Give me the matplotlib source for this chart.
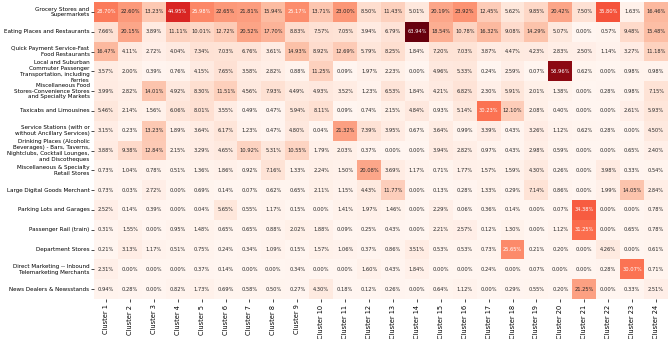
import numpy as np
import matplotlib
matplotlib.use("Agg")
import matplotlib.pyplot as plt
import seaborn as sns

clusters = [f"Cluster {i}" for i in range(1, 25)]
categories = [
    "Grocery Stores and\nSupermarkets",
    "Eating Places and Restaurants",
    "Quick Payment Service-Fast\nFood Restaurants",
    "Local and Suburban\nCommuter Passenger\nTransportation, including\nFerries",
    "Miscellaneous Food\nStores-Convenience Stores\nand Specialty Markets",
    "Taxicabs and Limousines",
    "Service Stations (with or\nwithout Ancillary Services)",
    "Drinking Places (Alcoholic\nBeverages) - Bars, Taverns,\nNightclubs, Cocktail Lounges,\nand Discotheques",
    "Miscellaneous & Specialty\nRetail Stores",
    "Large Digital Goods Merchant",
    "Parking Lots and Garages",
    "Passenger Rail (train)",
    "Department Stores",
    "Direct Marketing -- Inbound\nTelemarketing Merchants",
    "News Dealers & Newsstands",
]

grocery = [28.70, 22.60, 13.23, 44.95, 25.98, 22.65, 21.81, 15.94, 25.17, 13.71, 23.00, 8.50, 11.43, 5.01, 20.19, 23.92, 12.45, 5.62, 9.85, 20.42, 7.50, 35.80, 1.63, 16.46]
eating = [7.66, 20.15, 3.89, 11.11, 10.01, 12.72, 20.52, 17.70, 8.83, 7.57, 7.05, 3.94, 6.79, 63.94, 18.54, 10.78, 16.32, 9.08, 14.29, 5.07, 0.00, 0.57, 9.48, 15.48]
quick_pay = [16.47, 4.11, 2.72, 4.04, 7.34, 7.03, 6.76, 3.61, 14.93, 8.92, 12.69, 5.79, 8.25, 1.84, 7.20, 7.03, 3.87, 4.47, 4.23, 2.83, 2.50, 1.14, 3.27, 11.18]
commuter = [3.57, 2.00, 0.39, 0.76, 4.15, 7.65, 3.58, 2.82, 0.88, 11.25, 0.09, 1.97, 2.23, 0.00, 4.96, 5.33, 0.24, 2.59, 0.07, 58.96, 0.62, 0.00, 0.98, 0.98]
misc_food = [3.99, 2.82, 14.01, 4.92, 8.30, 11.51, 4.56, 7.93, 4.49, 4.93, 3.52, 1.23, 6.53, 1.84, 4.21, 6.82, 2.30, 5.91, 2.01, 1.38, 0.00, 0.28, 0.98, 7.15]
taxi = [5.46, 2.14, 1.56, 6.06, 8.01, 3.55, 0.49, 0.47, 5.94, 8.11, 0.09, 0.74, 2.15, 4.84, 0.93, 5.14, 30.23, 12.10, 2.08, 0.40, 0.00, 0.00, 2.61, 5.93]
service = [3.15, 0.23, 13.23, 1.89, 3.64, 6.17, 1.23, 0.47, 4.80, 0.04, 21.32, 7.39, 3.95, 0.67, 3.64, 0.99, 3.39, 0.43, 3.26, 1.12, 0.62, 0.28, 0.00, 4.50]
drinking = [3.88, 9.38, 12.84, 2.15, 3.29, 4.65, 10.92, 5.31, 10.55, 1.79, 2.03, 0.37, 0.00, 0.00, 3.94, 2.82, 0.97, 0.43, 2.98, 0.59, 0.00, 0.00, 0.65, 2.40]
misc_retail = [0.73, 1.04, 0.78, 0.51, 1.36, 1.86, 0.92, 7.16, 1.33, 2.24, 1.50, 20.08, 3.69, 1.17, 0.71, 1.77, 1.57, 1.59, 4.30, 0.26, 0.00, 3.98, 0.33, 0.54]
digital = [0.73, 0.03, 2.72, 0.00, 0.69, 0.14, 0.07, 0.62, 0.65, 2.11, 1.15, 4.43, 11.77, 0.00, 0.13, 0.28, 1.33, 0.29, 7.14, 0.86, 0.00, 1.99, 14.05, 2.84]
parking = [2.52, 0.14, 0.39, 0.00, 0.04, 5.65, 0.55, 1.17, 0.15, 0.00, 1.41, 1.97, 1.46, 0.00, 2.29, 0.06, 0.36, 0.14, 0.00, 0.07, 34.38, 0.00, 0.00, 0.78]
rail = [0.31, 1.55, 0.00, 0.95, 1.48, 0.65, 0.65, 0.88, 2.02, 1.88, 0.09, 0.25, 0.43, 0.00, 2.21, 2.57, 0.12, 1.30, 0.00, 1.12, 31.25, 0.00, 0.65, 0.78]
department = [0.21, 3.13, 1.17, 0.51, 0.75, 0.24, 0.34, 1.09, 0.15, 1.57, 1.06, 0.37, 0.86, 3.51, 0.53, 0.53, 0.73, 25.65, 0.21, 0.20, 0.00, 4.26, 0.00, 0.61]
direct_mkt = [2.31, 0.00, 0.00, 0.00, 0.37, 0.14, 0.00, 0.00, 0.34, 0.00, 0.00, 1.60, 0.43, 1.84, 0.00, 0.00, 0.24, 0.00, 0.07, 0.00, 0.00, 0.28, 30.07, 0.71]
news = [0.94, 0.28, 0.00, 0.82, 1.73, 0.69, 0.58, 0.50, 0.27, 4.30, 0.18, 0.12, 0.26, 0.00, 0.64, 1.12, 0.00, 0.29, 0.55, 0.20, 21.25, 0.00, 0.33, 2.51]

data = np.array([grocery, eating, quick_pay, commuter, misc_food, taxi, service,
                 drinking, misc_retail, digital, parking, rail, department,
                 direct_mkt, news])
annot = np.vectorize(lambda v: f"{v:.2f}%")(data)

fig = plt.figure(figsize=(6.68, 3.39), dpi=100)
ax = fig.add_axes([0.1407, 0.118, 0.8593, 0.876])
sns.heatmap(data, ax=ax, cmap="Reds", vmin=0, vmax=data.max(), annot=annot, fmt="",
            annot_kws={"fontsize": 3.7}, cbar=False,
            xticklabels=clusters, yticklabels=categories)
ax.tick_params(axis="x", labelsize=4.8, rotation=90, length=2.5, width=0.5, pad=1.5)
ax.tick_params(axis="y", labelsize=4.1, rotation=0, length=2.0, width=0.5, pad=1.2)
fig.savefig("out.png", dpi=100)
